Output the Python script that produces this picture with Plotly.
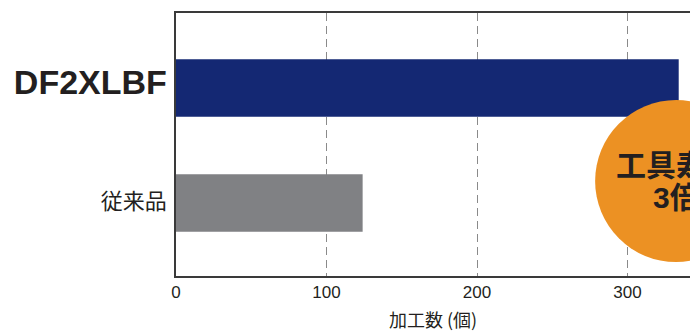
import plotly.graph_objects as go

categories = ["従来品", "DF2XLBF"]
values = [124, 334]
bar_colors = ["#808184", "#142873"]
tick_vals = [0, 100, 200, 300]
tick_text = ["0", "100", "200", "300"]
cat_labels = [
    "<span style='font-family:Noto Sans CJK JP;font-size:22px'>従来品</span>",
    "<b><span style='font-family:Liberation Sans;font-size:34px'>DF2XLBF</span></b>",
]
x_title = "加工数 (個)"
badge_lines = ["工具寿命", "3倍"]

fig = go.Figure()
fig.add_trace(go.Bar(
    y=categories, x=values, orientation="h",
    marker=dict(color=bar_colors, line=dict(width=0)),
    hoverinfo="skip",
))

fig.update_layout(
    width=690, height=334,
    margin=dict(l=176, r=0, t=13, b=58),
    paper_bgcolor="white", plot_bgcolor="white",
    showlegend=False, bargap=0.5,
    font=dict(family="Liberation Sans, Noto Sans CJK JP", color="#231F20", size=17),
    xaxis=dict(
        range=[0, 341.5], tickvals=tick_vals, ticktext=tick_text,
        showgrid=True, gridcolor="#8a8a8a", gridwidth=1, griddash="8px,5px",
        zeroline=False, showline=True, linecolor="#3a3a3a", linewidth=1.5, mirror=True,
        ticks="", tickfont=dict(size=17, family="Liberation Sans"),
        title=dict(text=x_title, font=dict(size=18, family="Noto Sans CJK JP"), standoff=13),
    ),
    yaxis=dict(
        type="category", range=[-0.635, 1.652],
        tickvals=categories, ticktext=cat_labels,
        showgrid=False, zeroline=False, showline=True, linecolor="#3a3a3a", linewidth=1.5,
        ticks="", ticklabelstandoff=4,
    ),
)

fig.add_shape(
    type="circle", xref="paper", yref="paper",
    xsizemode="pixel", ysizemode="pixel",
    xanchor=0.973, yanchor=0.361,
    x0=-81, x1=81, y0=-81, y1=81,
    fillcolor="#EC9123", line=dict(width=0), layer="above",
)
fig.add_annotation(
    x=0.973, y=0.43, xref="paper", yref="paper", text="<b>" + badge_lines[0] + "</b>",
    showarrow=False, xanchor="center", yanchor="middle",
    font=dict(size=30, family="Noto Sans CJK JP", color="#231F20"),
)
fig.add_annotation(
    x=0.973, y=0.297, xref="paper", yref="paper", text="<b>" + badge_lines[1] + "</b>",
    showarrow=False, xanchor="center", yanchor="middle",
    font=dict(size=30, family="Liberation Sans, Noto Sans CJK JP", color="#231F20"),
)

fig.write_html("out.html")
